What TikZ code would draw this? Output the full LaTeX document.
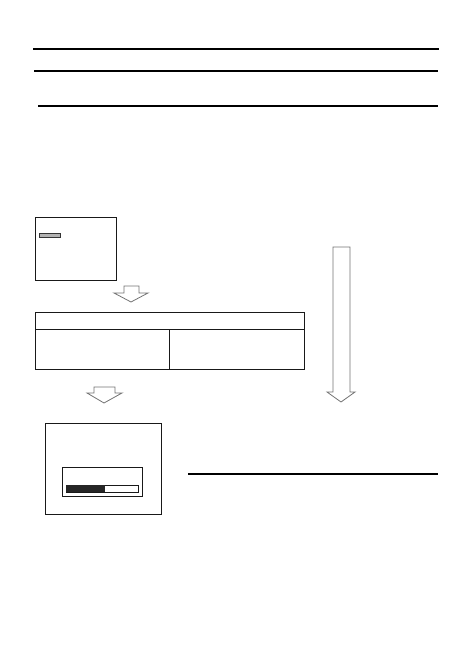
\documentclass[tikz,border=0pt]{standalone}
\usetikzlibrary{positioning}
\tikzset{
  rule/.style={line width=1.1pt},
  frame/.style={draw=black!90, line width=1pt},
  hollowarrow/.style={draw=black!55, line width=0.8pt, fill=white},
}
\begin{document}
\begin{tikzpicture}[x=1pt,y=-1pt]
\useasboundingbox (0,0) rectangle (472,668);
% header rules
\draw[rule] (33,49) -- (439,49);
\draw[rule] (34,71) -- (438,71);
\draw[rule] (38,106) -- (438,106);
% screen 1
\draw[frame] (35,217) rectangle (116,280);
\draw[draw=black!80, fill=black!30, line width=0.6pt] (39,233) rectangle (60,237);
% arrow 1
\draw[hollowarrow] (124,286) -- (139,286) -- (139,293) -- (148,293) -- (131,302) -- (114,293) -- (124,293) -- cycle;
% table box
\draw[frame] (35,312) rectangle (304,369);
\draw[frame] (35,329) -- (304,329);
\draw[frame] (169,329) -- (169,369);
% arrow 2
\draw[hollowarrow] (94,387) -- (115,387) -- (115,393) -- (122,393) -- (104,403) -- (87,393) -- (94,393) -- cycle;
% long arrow 3
\draw[hollowarrow] (333,247) -- (350,247) -- (350,392) -- (355,392) -- (341,402) -- (327,392) -- (333,392) -- cycle;
% screen 2
\draw[frame] (45,423) rectangle (161,514);
\draw[frame] (62,467) rectangle (142,496);
\draw[draw=black!90, line width=0.8pt] (66,485) rectangle (138,492);
\fill[black!85] (66,485) rectangle (105,492);
% rule right
\draw[rule] (188,474) -- (438,474);
\end{tikzpicture}
\end{document}
